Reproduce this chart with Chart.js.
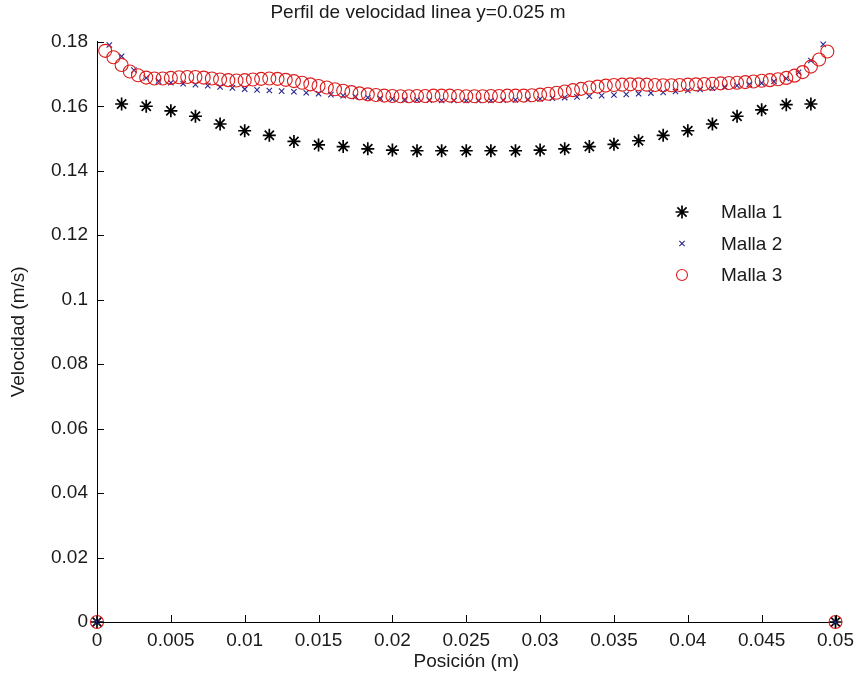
<!DOCTYPE html>
<html>
<head>
<meta charset="utf-8">
<title>Perfil de velocidad</title>
<script src="https://cdn.jsdelivr.net/npm/chart.js@4.4.1/dist/chart.umd.min.js"></script>
<style>
  html, body { margin: 0; padding: 0; background: #fff; }
  #wrap { width: 861px; height: 685px; }
</style>
</head>
<body>
<div id="wrap"><canvas id="velChart" width="861" height="685"></canvas></div>
<script>
// dominio (m) y etiquetas de ejes
const longitud = 0.05;
const xTickLabels = ['0', '0.005', '0.01', '0.015', '0.02', '0.025', '0.03', '0.035', '0.04', '0.045', '0.05'];
const yTickLabels = ['0', '0.02', '0.04', '0.06', '0.08', '0.1', '0.12', '0.14', '0.16', '0.18'];
const seriesNames = ['Malla 1', 'Malla 2', 'Malla 3'];

// velocidades (m/s), nodos equiespaciados en [0, 0.05]
const malla1 = [0,
  0.1607, 0.1600, 0.1586, 0.1569, 0.1545, 0.1524, 0.1510, 0.1491, 0.1480, 0.1475,
  0.1468, 0.1464, 0.1462, 0.1462, 0.1462, 0.1462, 0.1462, 0.1464, 0.1468, 0.1475,
  0.1482, 0.1493, 0.1510, 0.1524, 0.1545, 0.1569, 0.1589, 0.1605, 0.1607,
  0];

const malla2 = [0,
  0.1790, 0.1755, 0.1712, 0.1688, 0.1678, 0.1673, 0.1670, 0.1667, 0.1664, 0.1660,
  0.1657, 0.1653, 0.1651, 0.1649, 0.1647, 0.1645, 0.1642, 0.1639, 0.1636, 0.1633,
  0.1630, 0.1627, 0.1625, 0.1623, 0.1621, 0.1620, 0.1619, 0.1618, 0.1618, 0.1618,
  0.1618, 0.1618, 0.1619, 0.1620, 0.1621, 0.1623, 0.1625, 0.1627, 0.1629, 0.1631,
  0.1633, 0.1635, 0.1637, 0.1639, 0.1641, 0.1643, 0.1646, 0.1649, 0.1652, 0.1656,
  0.1660, 0.1664, 0.1668, 0.1672, 0.1677, 0.1686, 0.1705, 0.1742, 0.1792,
  0];

const malla3 = [0,
  0.1772, 0.1752, 0.1728, 0.1708, 0.1696, 0.1689, 0.1686, 0.1686, 0.1688, 0.1690,
  0.1691, 0.1691, 0.1689, 0.1686, 0.1683, 0.1681, 0.1680, 0.1681, 0.1683, 0.1685,
  0.1686, 0.1685, 0.1682, 0.1678, 0.1673, 0.1668, 0.1663, 0.1658, 0.1653, 0.1648,
  0.1644, 0.1640, 0.1637, 0.1635, 0.1633, 0.1632, 0.1631, 0.1631, 0.1632, 0.1632,
  0.1633, 0.1633, 0.1633, 0.1632, 0.1631, 0.1631, 0.1631, 0.1632, 0.1632, 0.1633,
  0.1633, 0.1633, 0.1634, 0.1636, 0.1639, 0.1642, 0.1646, 0.1650, 0.1654, 0.1658,
  0.1661, 0.1664, 0.1666, 0.1667, 0.1668, 0.1668, 0.1667, 0.1666, 0.1665, 0.1665,
  0.1666, 0.1667, 0.1668, 0.1669, 0.1670, 0.1671, 0.1672, 0.1673, 0.1675, 0.1677,
  0.1679, 0.1681, 0.1684, 0.1688, 0.1695, 0.1706, 0.1723, 0.1745, 0.1770,
  0];

const FONT = '"Liberation Sans", Arial, sans-serif';
const TEXT = '#1a1a1a';

// pares (x, y) sobre una malla uniforme
const toPoints = vals => vals.map((v, i) => ({ x: i * longitud / (vals.length - 1), y: v }));

const estilos = [
  { pointStyle: 'star', pointRadius: 6.5, pointBorderWidth: 1.7, color: '#000000', fill: '#000000' },
  { pointStyle: 'crossRot', pointRadius: 3.8, pointBorderWidth: 1.1, color: '#28288f', fill: '#28288f' },
  { pointStyle: 'circle', pointRadius: 6.5, pointBorderWidth: 1.1, color: '#dc1c1c', fill: 'rgba(0,0,0,0)' }
];

// marcas de los ejes hacia dentro, como en MATLAB
const marcasInternas = {
  id: 'marcasInternas',
  afterDraw(chart) {
    const { ctx, chartArea, scales } = chart;
    ctx.save();
    ctx.strokeStyle = '#000';
    ctx.lineWidth = 1;
    ctx.beginPath();
    scales.x.ticks.forEach(t => {
      const px = Math.round(scales.x.getPixelForValue(t.value)) + 0.5;
      ctx.moveTo(px, chartArea.bottom);
      ctx.lineTo(px, chartArea.bottom - 7);
    });
    scales.y.ticks.forEach(t => {
      const py = Math.round(scales.y.getPixelForValue(t.value)) + 0.5;
      ctx.moveTo(chartArea.left, py);
      ctx.lineTo(chartArea.left + 7, py);
    });
    ctx.stroke();
    ctx.restore();
  }
};

// leyenda dentro del area de la grafica
const leyenda = {
  id: 'leyenda',
  afterDraw(chart) {
    const { ctx, chartArea } = chart;
    const mx = chartArea.left + 585;
    const tx = chartArea.left + 624;
    ctx.save();
    ctx.font = '19px ' + FONT;
    ctx.textBaseline = 'middle';
    chart.data.datasets.forEach((ds, i) => {
      const y = 212 + i * 31.5;
      const st = estilos[i];
      ctx.strokeStyle = st.color;
      ctx.fillStyle = st.fill;
      ctx.lineWidth = st.pointBorderWidth;
      Chart.helpers.drawPoint(ctx, {
        pointStyle: st.pointStyle,
        radius: i === 2 ? 5.5 : st.pointRadius,
        rotation: 0,
        borderWidth: st.pointBorderWidth
      }, mx, y);
      ctx.fillStyle = TEXT;
      ctx.fillText(ds.label, tx, y + 1);
    });
    ctx.restore();
  }
};

const series = [malla1, malla2, malla3];

new Chart(document.getElementById('velChart'), {
  type: 'scatter',
  data: {
    datasets: series.map((vals, i) => ({
      label: seriesNames[i],
      data: toPoints(vals),
      showLine: false,
      pointStyle: estilos[i].pointStyle,
      pointRadius: estilos[i].pointRadius,
      pointBorderWidth: estilos[i].pointBorderWidth,
      borderColor: estilos[i].color,
      backgroundColor: estilos[i].fill,
      pointHoverRadius: estilos[i].pointRadius,
      order: 2 - i,
      clip: false
    }))
  },
  options: {
    responsive: false,
    animation: false,
    layout: { padding: { left: 0, right: 25, top: 0, bottom: 0 } },
    plugins: {
      legend: { display: false },
      tooltip: { enabled: false },
      title: {
        display: true,
        text: 'Perfil de velocidad linea y=0.025 m',
        color: TEXT,
        font: { family: FONT, size: 19, weight: 'normal' },
        padding: { top: 1, bottom: 18 }
      }
    },
    scales: {
      x: {
        type: 'linear',
        min: 0,
        max: longitud,
        afterFit: scale => { scale.height = 63; },
        border: { display: true, color: '#000', width: 1 },
        grid: { display: true, drawOnChartArea: false, drawTicks: false },
        ticks: {
          stepSize: 0.005,
          padding: 7,
          color: TEXT,
          font: { family: FONT, size: 19 },
          maxRotation: 0,
          callback: (v, i) => xTickLabels[i]
        },
        title: {
          display: true,
          text: 'Posición (m)',
          color: TEXT,
          font: { family: FONT, size: 19 },
          padding: { top: 0, bottom: 12 }
        }
      },
      y: {
        type: 'linear',
        min: 0,
        max: 0.18,
        afterFit: scale => { scale.width = 97; },
        border: { display: true, color: '#000', width: 1 },
        grid: { display: true, drawOnChartArea: false, drawTicks: false },
        ticks: {
          stepSize: 0.02,
          padding: 9,
          color: TEXT,
          font: { family: FONT, size: 19 },
          callback: (v, i) => yTickLabels[i]
        },
        title: {
          display: true,
          text: 'Velocidad (m/s)',
          color: TEXT,
          font: { family: FONT, size: 19 },
          padding: { top: 7, bottom: 0 }
        }
      }
    }
  },
  plugins: [marcasInternas, leyenda]
});
</script>
</body>
</html>
